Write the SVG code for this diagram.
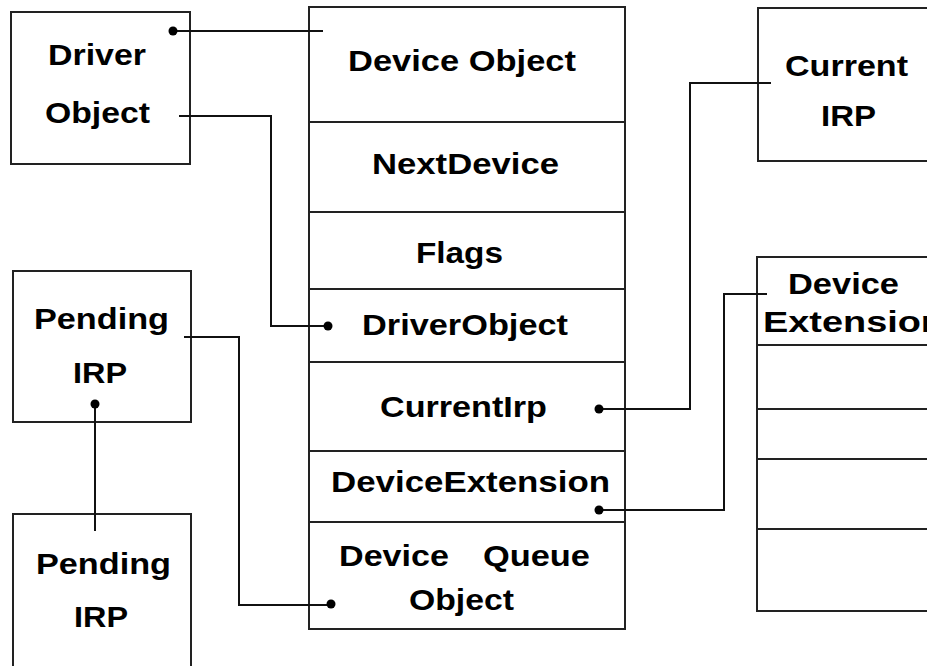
<svg xmlns="http://www.w3.org/2000/svg" width="927" height="666" viewBox="0 0 927 666">
<style>
.box{fill:#fff;stroke:#222;stroke-width:2}
.div{stroke:#222;stroke-width:2;fill:none}
.t{font-family:"Liberation Sans",Arial,sans-serif;font-weight:bold;font-size:30px;fill:#000;text-anchor:start}
.c{fill:none;stroke:#111;stroke-width:2}
.dot{fill:#000}
</style>
<rect width="927" height="666" fill="#fff"/>
<g id="driver-object">
<rect class="box" x="11" y="12" width="179" height="152"/>
<text class="t" x="48" y="65" textLength="98" lengthAdjust="spacingAndGlyphs">Driver</text>
<text class="t" x="45" y="123" textLength="105" lengthAdjust="spacingAndGlyphs">Object</text>
</g>
<g id="device-object">
<rect class="box" x="309" y="7" width="316" height="622"/>
<line class="div" x1="309" y1="122" x2="625" y2="122"/>
<line class="div" x1="309" y1="212" x2="625" y2="212"/>
<line class="div" x1="309" y1="289" x2="625" y2="289"/>
<line class="div" x1="309" y1="362" x2="625" y2="362"/>
<line class="div" x1="309" y1="451" x2="625" y2="451"/>
<line class="div" x1="309" y1="522" x2="625" y2="522"/>
<text class="t" x="348" y="71" textLength="228" lengthAdjust="spacingAndGlyphs">Device Object</text>
<text class="t" x="372" y="174" textLength="187" lengthAdjust="spacingAndGlyphs">NextDevice</text>
<text class="t" x="416" y="263" textLength="87" lengthAdjust="spacingAndGlyphs">Flags</text>
<text class="t" x="362" y="335" textLength="206" lengthAdjust="spacingAndGlyphs">DriverObject</text>
<text class="t" x="380" y="417" textLength="167" lengthAdjust="spacingAndGlyphs">CurrentIrp</text>
<text class="t" x="331" y="492" textLength="279" lengthAdjust="spacingAndGlyphs">DeviceExtension</text>
<text class="t" x="339" y="566" textLength="110" lengthAdjust="spacingAndGlyphs">Device</text>
<text class="t" x="483" y="566" textLength="107" lengthAdjust="spacingAndGlyphs">Queue</text>
<text class="t" x="409" y="610" textLength="105" lengthAdjust="spacingAndGlyphs">Object</text>
</g>
<g id="current-irp">
<rect class="box" x="758" y="8" width="180" height="153"/>
<text class="t" x="785" y="76" textLength="123" lengthAdjust="spacingAndGlyphs">Current</text>
<text class="t" x="821" y="126" textLength="55" lengthAdjust="spacingAndGlyphs">IRP</text>
</g>
<g id="device-extension">
<rect class="box" x="757" y="257" width="180" height="354"/>
<line class="div" x1="757" y1="345" x2="937" y2="345"/>
<line class="div" x1="757" y1="409" x2="937" y2="409"/>
<line class="div" x1="757" y1="459" x2="937" y2="459"/>
<line class="div" x1="757" y1="529" x2="937" y2="529"/>
<text class="t" x="788" y="294" textLength="111" lengthAdjust="spacingAndGlyphs">Device</text>
<text class="t" x="763" y="332" textLength="181" lengthAdjust="spacingAndGlyphs">Extension</text>
</g>
<g id="pending-irp-1">
<rect class="box" x="13" y="271" width="178" height="151"/>
<text class="t" x="34" y="329" textLength="135" lengthAdjust="spacingAndGlyphs">Pending</text>
<text class="t" x="73" y="383" textLength="54" lengthAdjust="spacingAndGlyphs">IRP</text>
</g>
<g id="pending-irp-2">
<rect class="box" x="13" y="514" width="178" height="160"/>
<text class="t" x="36" y="574" textLength="135" lengthAdjust="spacingAndGlyphs">Pending</text>
<text class="t" x="74" y="627" textLength="54" lengthAdjust="spacingAndGlyphs">IRP</text>
</g>
<g id="connectors">
<polyline class="c" points="173,31 323,31"/>
<circle class="dot" cx="173" cy="31" r="4.5"/>
<polyline class="c" points="179,116 271,116 271,326 328,326"/>
<circle class="dot" cx="328" cy="326" r="4.5"/>
<polyline class="c" points="599,409 690,409 690,83 771,83"/>
<circle class="dot" cx="599" cy="409" r="4.5"/>
<polyline class="c" points="599,510 724,510 724,294 767,294"/>
<circle class="dot" cx="599" cy="510" r="4.5"/>
<polyline class="c" points="184,337 239,337 239,605 331,605"/>
<circle class="dot" cx="331" cy="604" r="4.5"/>
<polyline class="c" points="95,404 95,531"/>
<circle class="dot" cx="95" cy="404" r="4.5"/>
</g>
</svg>
